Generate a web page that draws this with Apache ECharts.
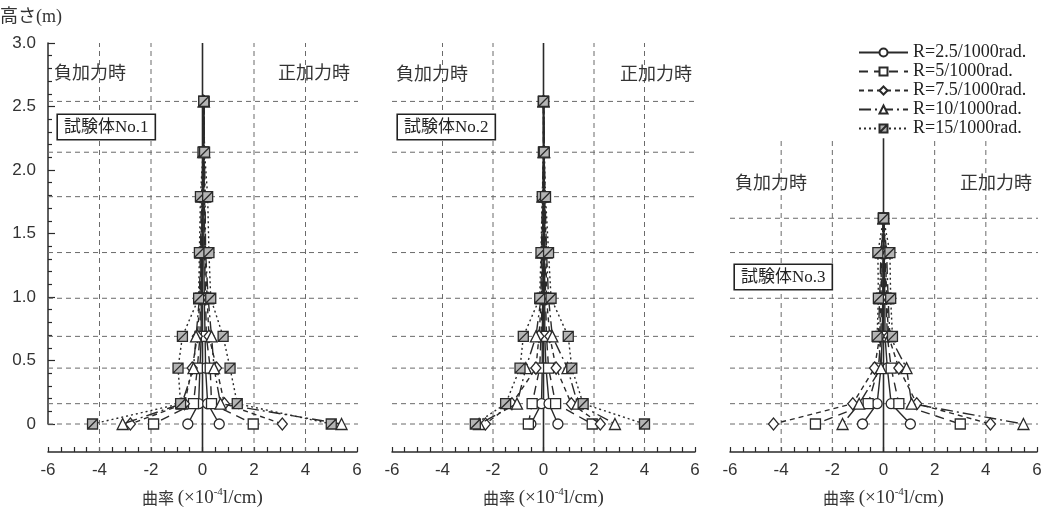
<!DOCTYPE html>
<html><head><meta charset="utf-8">
<script src="https://cdn.jsdelivr.net/npm/echarts@6/dist/echarts.min.js"></script>
<style>html,body{margin:0;padding:0;background:#fff}#c{width:1045px;height:515px}</style>
</head><body><div id="c"></div>
<script>
// ================= DATA =================
const seriesNames = ['R=2.5/1000rad.', 'R=5/1000rad.', 'R=7.5/1000rad.', 'R=10/1000rad.', 'R=15/1000rad.'];
const specimenLabels = ['試験体No.1', '試験体No.2', '試験体No.3'];
const xTickValues = [-6, -4, -2, 0, 2, 4, 6];
const yTickValues = [0, 0.5, 1.0, 1.5, 2.0, 2.5, 3.0];
const xGridValues = [-4, -2, 2, 4];

// measurement heights (m), top -> bottom
const heights12 = [2.54, 2.14, 1.79, 1.35, 0.99, 0.69, 0.44, 0.16, 0];
const heights3 = [1.62, 1.35, 0.99, 0.69, 0.44, 0.16, 0];

// curvature (x10^-4 1/cm) at each height; neg = 負加力時, pos = 正加力時
// Specimen No.1
const s1_R25_neg = [0.05, 0.04, 0.02, -0.03, -0.05, -0.05, -0.10, -0.15, -0.57];
const s1_R25_pos = [0.05, 0.05, 0.05, 0.05, 0.07, 0.10, 0.12, 0.20, 0.65];
const s1_R5_neg  = [0.05, 0.04, 0.00, -0.05, -0.08, -0.10, -0.20, -0.35, -1.90];
const s1_R5_pos  = [0.05, 0.06, 0.07, 0.08, 0.12, 0.15, 0.30, 0.35, 1.97];
const s1_R75_neg = [0.05, 0.03, -0.02, -0.06, -0.10, -0.20, -0.40, -0.70, -2.80];
const s1_R75_pos = [0.05, 0.07, 0.08, 0.10, 0.18, 0.25, 0.55, 0.85, 3.10];
const s1_R10_neg = [0.05, 0.03, -0.04, -0.08, -0.12, -0.25, -0.35, -0.80, -3.10];
const s1_R10_pos = [0.05, 0.07, 0.10, 0.12, 0.22, 0.35, 0.45, 0.70, 5.40];
const s1_R15_neg = [0.05, 0.02, -0.08, -0.12, -0.15, -0.78, -0.95, -0.85, -4.27];
const s1_R15_pos = [0.05, 0.08, 0.20, 0.25, 0.32, 0.80, 1.07, 1.35, 5.00];
// Specimen No.2
const s2_R25_neg = [0.00, 0.00, 0.00, -0.02, -0.03, -0.05, -0.05, -0.08, -0.50];
const s2_R25_pos = [0.00, 0.02, 0.03, 0.04, 0.05, 0.05, 0.10, 0.22, 0.57];
const s2_R5_neg  = [0.00, 0.00, -0.02, -0.04, -0.05, -0.10, -0.15, -0.45, -0.60];
const s2_R5_pos  = [0.00, 0.02, 0.04, 0.06, 0.08, 0.12, 0.20, 0.48, 1.93];
const s2_R75_neg = [0.00, 0.00, -0.03, -0.06, -0.08, -0.18, -0.30, -1.25, -2.30];
const s2_R75_pos = [0.00, 0.03, 0.05, 0.10, 0.12, 0.25, 0.50, 1.10, 2.25];
const s2_R10_neg = [0.00, 0.00, -0.04, -0.08, -0.10, -0.30, -0.70, -1.05, -2.55];
const s2_R10_pos = [0.00, 0.03, 0.06, 0.12, 0.20, 0.35, 0.95, 1.35, 2.83];
const s2_R15_neg = [0.00, 0.00, -0.05, -0.10, -0.15, -0.80, -0.93, -1.50, -2.70];
const s2_R15_pos = [0.00, 0.03, 0.08, 0.20, 0.30, 0.98, 1.12, 1.57, 4.00];
// Specimen No.3
const s3_R25_neg = [0.00, -0.02, -0.03, -0.05, -0.10, -0.25, -0.82];
const s3_R25_pos = [0.00, 0.03, 0.05, 0.06, 0.15, 0.30, 1.05];
const s3_R5_neg  = [0.00, -0.05, -0.08, -0.10, -0.20, -0.60, -2.66];
const s3_R5_pos  = [0.00, 0.06, 0.10, 0.15, 0.30, 0.60, 3.00];
const s3_R75_neg = [0.00, -0.08, -0.10, -0.15, -0.35, -1.20, -4.30];
const s3_R75_pos = [0.00, 0.08, 0.12, 0.20, 0.60, 1.30, 4.18];
const s3_R10_neg = [0.00, -0.10, -0.15, -0.20, -0.10, -0.95, -1.60];
const s3_R10_pos = [0.00, 0.12, 0.18, 0.25, 0.90, 1.10, 5.47];
const s3_R15_neg = [0.00, -0.22, -0.20, -0.25, null, null, null];
const s3_R15_pos = [0.00, 0.25, 0.28, 0.35, null, null, null];

const panelHeights = [heights12, heights12, heights3];
const panelData = [
  [[s1_R25_neg, s1_R25_pos], [s1_R5_neg, s1_R5_pos], [s1_R75_neg, s1_R75_pos], [s1_R10_neg, s1_R10_pos], [s1_R15_neg, s1_R15_pos]],
  [[s2_R25_neg, s2_R25_pos], [s2_R5_neg, s2_R5_pos], [s2_R75_neg, s2_R75_pos], [s2_R10_neg, s2_R10_pos], [s2_R15_neg, s2_R15_pos]],
  [[s3_R25_neg, s3_R25_pos], [s3_R5_neg, s3_R5_pos], [s3_R75_neg, s3_R75_pos], [s3_R10_neg, s3_R10_pos], [s3_R15_neg, s3_R15_pos]]
];
const panelTopHeight = [3.0, 3.0, 2.25];

// ================= LAYOUT / STYLE =================
const GRID_TOP = 43, ZERO_Y = 424, CH = 515;
const AX_OFF = 28;
const panels = [{left: 48, width: 309}, {left: 392, width: 303}, {left: 730, width: 307}];
const pxPerM = (ZERO_Y - GRID_TOP) / 3;
const belowZero = -AX_OFF / pxPerM;
const INK = '#2a2a2a', GRIDC = '#6a6a6a';
const SANS = "'Liberation Sans', Arial, sans-serif";
const MIX = "'Liberation Serif', 'Noto Sans CJK JP', sans-serif";

const styles = [
  {symbol: 'circle', size: 10, dash: 'solid', fill: '#fff'},
  {symbol: 'rect', size: 10, dash: [9, 6], fill: '#fff'},
  {symbol: 'diamond', size: [10, 12], dash: [5, 4], fill: '#fff'},
  {symbol: 'triangle', size: 11, dash: [12, 4, 2, 4], fill: '#fff'},
  {symbol: 'path://M0,0L10,0L10,10L0,10Z M0,10L10,0', size: 10, dash: [2, 3], fill: '#b4b4b4'}
];

const grids = [], xAxes = [], yAxes = [], series = [];

panels.forEach((p, i) => {
  grids.push({left: p.left, width: p.width, top: GRID_TOP, bottom: CH - ZERO_Y});
  xAxes.push({
    type: 'value', gridIndex: i, min: -6, max: 6, interval: 2, offset: AX_OFF,
    axisLine: {show: true, onZero: false, lineStyle: {color: INK, width: 1.5}},
    axisTick: {show: true, inside: true, length: 5, lineStyle: {color: INK, width: 1.2}},
    minorTick: {show: true, splitNumber: 4, length: 5, lineStyle: {color: INK, width: 1.2}},
    axisLabel: {color: '#333', fontFamily: SANS, fontSize: 17, margin: 10},
    splitLine: {show: false},
    name: '{c|曲率 }{t|(×10}{s|-4}{t|l/cm)}', nameLocation: 'middle', nameGap: 35,
    nameTextStyle: {
      rich: {
        c: {fontFamily: "'Noto Sans CJK JP'", fontSize: 16, color: '#333', lineHeight: 22},
        t: {fontFamily: "'Liberation Serif'", fontSize: 19, color: '#333', lineHeight: 22},
        s: {fontFamily: "'Liberation Serif'", fontSize: 11, color: '#333', verticalAlign: 'top', lineHeight: 22}
      }
    }
  });
  yAxes.push({
    type: 'value', gridIndex: i, min: 0, max: 3, interval: 0.5, show: i === 0,
    axisLine: {show: true, onZero: false, lineStyle: {color: INK, width: 1.5}},
    axisTick: {show: true, inside: true, length: 7, lineStyle: {color: INK, width: 1.2}},
    minorTick: {show: true, splitNumber: 5, length: 4, lineStyle: {color: INK, width: 1.2}},
    axisLabel: {color: '#333', fontFamily: SANS, fontSize: 17, margin: 12,
      formatter: v => (v === 0 ? '0' : v.toFixed(1))},
    splitLine: {show: false}
  });

  // horizontal dashed lines at the measurement heights
  const rows = panelHeights[i];
  rows.forEach(h => {
    let end = 6.1;
    const next = panels[i + 1];
    if (next) {
      const continues = (i === 0) || heights3.includes(h);
      if (continues) end = 6 + (next.left - (p.left + p.width)) / (p.width / 12);
    }
    series.push({type: 'line', xAxisIndex: i, yAxisIndex: i, silent: true, clip: false, symbol: 'none', z: 1,
      data: [[-6, h], [end, h]], lineStyle: {color: GRIDC, width: 1, type: [5, 4]}, animation: false});
  });
  // vertical dashed lines
  xGridValues.forEach(xv => {
    series.push({type: 'line', xAxisIndex: i, yAxisIndex: i, silent: true, clip: false, symbol: 'none', z: 1,
      data: [[xv, belowZero], [xv, panelTopHeight[i]]], lineStyle: {color: GRIDC, width: 1, type: [5, 4]}, animation: false});
  });
  // zero line
  series.push({type: 'line', xAxisIndex: i, yAxisIndex: i, silent: true, clip: false, symbol: 'none', z: 2,
    data: [[0, belowZero], [0, panelTopHeight[i]]], lineStyle: {color: INK, width: 1.6}, animation: false});

  // data series
  panelData[i].forEach((pair, k) => {
    const st = styles[k];
    pair.forEach(vals => {
      const data = [];
      vals.forEach((v, j) => { if (v !== null) data.push([v, rows[j]]); });
      series.push({
        type: 'line', name: seriesNames[k], xAxisIndex: i, yAxisIndex: i, clip: false, z: 3 + k,
        data: data, symbol: st.symbol, symbolSize: st.size, showSymbol: true, animation: false,
        lineStyle: {color: INK, width: 1.4, type: st.dash},
        itemStyle: {color: st.fill, borderColor: INK, borderWidth: 1.3}
      });
    });
  });
});

const textStyle = (t, x, y, size) => ({type: 'text', x: x, y: y, silent: true, z: 100,
  style: {text: t, font: size + 'px ' + MIX, fill: '#333', verticalAlign: 'middle'}});
const boxStyle = (t, x, y) => ({type: 'text', x: x, y: y, silent: true, z: 100,
  style: {text: t, font: '17px ' + MIX, fill: '#222', backgroundColor: '#fff', borderColor: '#222', borderWidth: 1.6,
    padding: [4, 6, 3, 6], verticalAlign: 'top'}});

const option = {
  backgroundColor: '#fff',
  animation: false,
  grid: grids, xAxis: xAxes, yAxis: yAxes, series: series,
  legend: {
    data: seriesNames, orient: 'vertical', left: 853, top: 38, itemWidth: 49, itemHeight: 10, itemGap: 0,
    textStyle: {fontFamily: "'Liberation Serif'", fontSize: 18, color: '#222', lineHeight: 19},
    selectedMode: false
  },
  graphic: [
    textStyle('高さ(m)', 0, 17, 18),
    textStyle('負加力時', 54, 74, 18), textStyle('正加力時', 278, 74, 18),
    textStyle('負加力時', 396, 75, 18), textStyle('正加力時', 620, 75, 18),
    textStyle('負加力時', 735, 184, 18), textStyle('正加力時', 960, 184, 18),
    boxStyle(specimenLabels[0], 58, 115), boxStyle(specimenLabels[1], 398, 115), boxStyle(specimenLabels[2], 735, 265)
  ]
};
const chart = echarts.init(document.getElementById('c'), null, {renderer: 'canvas'});
chart.setOption(option);
</script></body></html>
